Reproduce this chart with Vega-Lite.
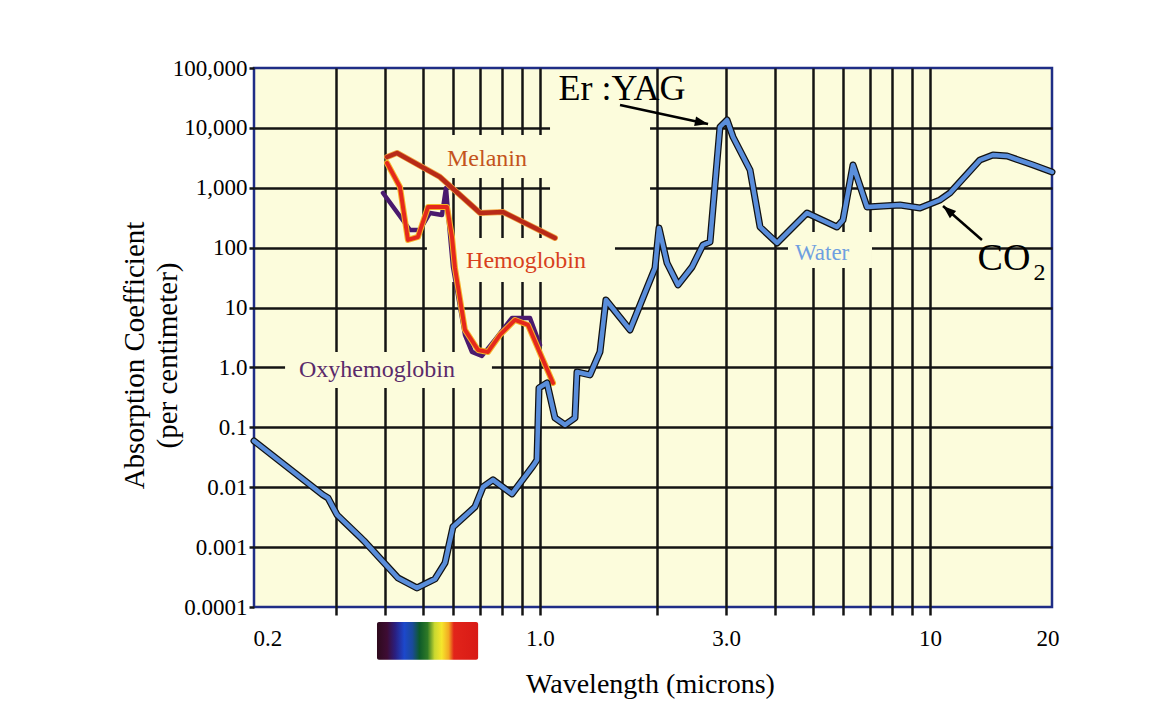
{
  "$schema": "https://vega.github.io/schema/vega-lite/v6.json",
  "width": 798,
  "height": 539,
  "autosize": {"type": "none"},
  "padding": {"left": 254, "top": 68, "right": 111, "bottom": 101},
  "background": "white",
  "config": {
    "view": {"fill": "#fcfcdc", "stroke": "#1f2d86", "strokeWidth": 2.5},
    "font": "'Liberation Serif', 'DejaVu Serif', serif"
  },
  "datasets": {
    "curves": [
      {"series": "Water", "x": 0.1848, "y": 0.0593},
      {"series": "Water", "x": 0.2778, "y": 0.00744},
      {"series": "Water", "x": 0.286, "y": 0.00663},
      {"series": "Water", "x": 0.3018, "y": 0.00345},
      {"series": "Water", "x": 0.3455, "y": 0.00148},
      {"series": "Water", "x": 0.3538, "y": 0.00127},
      {"series": "Water", "x": 0.4324, "y": 0.000306},
      {"series": "Water", "x": 0.4837, "y": 0.000208},
      {"series": "Water", "x": 0.5381, "y": 0.000294},
      {"series": "Water", "x": 0.5708, "y": 0.000545},
      {"series": "Water", "x": 0.5982, "y": 0.00217},
      {"series": "Water", "x": 0.6813, "y": 0.00469},
      {"series": "Water", "x": 0.7143, "y": 0.0101},
      {"series": "Water", "x": 0.7577, "y": 0.01324},
      {"series": "Water", "x": 0.8478, "y": 0.00773},
      {"series": "Water", "x": 0.9595, "y": 0.02268},
      {"series": "Water", "x": 0.9824, "y": 0.02856},
      {"series": "Water", "x": 0.9941, "y": 0.4547},
      {"series": "Water", "x": 1.0422, "y": 0.5511},
      {"series": "Water", "x": 1.0926, "y": 0.1435},
      {"series": "Water", "x": 1.1592, "y": 0.1097},
      {"series": "Water", "x": 1.2295, "y": 0.1435},
      {"series": "Water", "x": 1.2443, "y": 0.8411},
      {"series": "Water", "x": 1.3434, "y": 0.7494},
      {"series": "Water", "x": 1.425, "y": 1.815},
      {"series": "Water", "x": 1.476, "y": 13.4},
      {"series": "Water", "x": 1.701, "y": 4.23},
      {"series": "Water", "x": 1.972, "y": 45.8},
      {"series": "Water", "x": 2.019, "y": 213},
      {"series": "Water", "x": 2.117, "y": 55.5},
      {"series": "Water", "x": 2.259, "y": 23.9},
      {"series": "Water", "x": 2.454, "y": 47.6},
      {"series": "Water", "x": 2.617, "y": 110.9},
      {"series": "Water", "x": 2.729, "y": 124.5},
      {"series": "Water", "x": 2.894, "y": 10350},
      {"series": "Water", "x": 3.017, "y": 13550},
      {"series": "Water", "x": 3.126, "y": 7047},
      {"series": "Water", "x": 3.456, "y": 1982},
      {"series": "Water", "x": 3.666, "y": 221.6},
      {"series": "Water", "x": 4.053, "y": 119.8},
      {"series": "Water", "x": 4.837, "y": 379.6},
      {"series": "Water", "x": 5.774, "y": 221.6},
      {"series": "Water", "x": 5.983, "y": 290},
      {"series": "Water", "x": 6.348, "y": 2402},
      {"series": "Water", "x": 6.895, "y": 478},
      {"series": "Water", "x": 8.376, "y": 516},
      {"series": "Water", "x": 9.427, "y": 460},
      {"series": "Water", "x": 10.61, "y": 625.6},
      {"series": "Water", "x": 11.25, "y": 819},
      {"series": "Water", "x": 13.43, "y": 2912},
      {"series": "Water", "x": 14.5, "y": 3528},
      {"series": "Water", "x": 15.76, "y": 3395},
      {"series": "Water", "x": 18.37, "y": 2402},
      {"series": "Water", "x": 20.55, "y": 1835},
      {"series": "Melanin", "x": 0.4053, "y": 3268},
      {"series": "Melanin", "x": 0.4299, "y": 3811},
      {"series": "Melanin", "x": 0.5541, "y": 1515},
      {"series": "Melanin", "x": 0.7019, "y": 379.6},
      {"series": "Melanin", "x": 0.8036, "y": 394.5},
      {"series": "Melanin", "x": 1.0926, "y": 145.2},
      {"series": "Hemoglobin", "x": 0.4053, "y": 2595},
      {"series": "Hemoglobin", "x": 0.4375, "y": 1031},
      {"series": "Hemoglobin", "x": 0.4586, "y": 134.5},
      {"series": "Hemoglobin", "x": 0.4865, "y": 150.8},
      {"series": "Hemoglobin", "x": 0.5163, "y": 478},
      {"series": "Hemoglobin", "x": 0.5776, "y": 478},
      {"series": "Hemoglobin", "x": 0.5948, "y": 150.8},
      {"series": "Hemoglobin", "x": 0.6054, "y": 45.8},
      {"series": "Hemoglobin", "x": 0.6422, "y": 4.23},
      {"series": "Hemoglobin", "x": 0.6934, "y": 1.96},
      {"series": "Hemoglobin", "x": 0.7356, "y": 1.815},
      {"series": "Hemoglobin", "x": 0.7896, "y": 3.49},
      {"series": "Hemoglobin", "x": 0.8627, "y": 6.21},
      {"series": "Hemoglobin", "x": 0.9316, "y": 5.12},
      {"series": "Hemoglobin", "x": 1.0, "y": 1.746},
      {"series": "Hemoglobin", "x": 1.08, "y": 0.551},
      {"series": "Oxyhemoglobin", "x": 0.3958, "y": 819},
      {"series": "Oxyhemoglobin", "x": 0.4642, "y": 197.5},
      {"series": "Oxyhemoglobin", "x": 0.4922, "y": 197.5},
      {"series": "Oxyhemoglobin", "x": 0.5223, "y": 379.6},
      {"series": "Oxyhemoglobin", "x": 0.5607, "y": 351.6},
      {"series": "Oxyhemoglobin", "x": 0.5741, "y": 992},
      {"series": "Oxyhemoglobin", "x": 0.5809, "y": 394.5},
      {"series": "Oxyhemoglobin", "x": 0.5982, "y": 47.6},
      {"series": "Oxyhemoglobin", "x": 0.6422, "y": 3.49},
      {"series": "Oxyhemoglobin", "x": 0.6692, "y": 1.815},
      {"series": "Oxyhemoglobin", "x": 0.7097, "y": 1.556},
      {"series": "Oxyhemoglobin", "x": 0.7664, "y": 2.88},
      {"series": "Oxyhemoglobin", "x": 0.8478, "y": 6.71},
      {"series": "Oxyhemoglobin", "x": 0.9427, "y": 6.71},
      {"series": "Oxyhemoglobin", "x": 1.0, "y": 2.375}
    ],
    "labels": [
      {"label": "Melanin", "x": 0.7313, "y": 3027},
      {"label": "Hemoglobin", "x": 0.921, "y": 60},
      {"label": "Oxyhemoglobin", "x": 0.382, "y": 0.908},
      {"label": "Water", "x": 5.289, "y": 81.6},
      {"label": "Er :YAG", "x": 1.622, "y": 44600},
      {"label": "CO", "x": 15.48, "y": 64.8},
      {"label": "2", "x": 19.1, "y": 38}
    ],
    "boxes": [
      {"x": 0.222, "x2": 0.753, "y": 1.815, "y2": 0.455},
      {"x": 0.554, "x2": 1.061, "y": 7607, "y2": 1457},
      {"x": 0.513, "x2": 1.557, "y": 145.2, "y2": 26.8},
      {"x": 1.061, "x2": 1.915, "y": 92600, "y2": 145.2},
      {"x": 4.324, "x2": 7.1, "y": 182.8, "y2": 45.8}
    ],
    "spectrum": [
      {"x": 0.382, "x2": 0.694, "y": 0.0000564, "y2": 0.0000131}
    ],
    "arrows": [
      {"name": "Er", "x": 1.604, "y": 24100, "x2": 2.697, "y2": 11620},
      {"name": "CO2", "x": 13.59, "y": 134.5, "x2": 10.8, "y2": 496.7}
    ],
    "heads": [
      {"name": "Er", "x": 2.697, "y": 11620},
      {"name": "CO2", "x": 10.8, "y": 496.7}
    ]
  },
  "encoding": {
    "x": {
      "field": "x",
      "type": "quantitative",
      "scale": {"type": "log", "domain": [0.1848, 20.55], "nice": false},
      "axis": {
        "title": "Wavelength (microns)",
        "values": [0.2, 0.3, 0.4, 0.5, 0.6, 0.7, 0.8, 0.9, 1, 2, 3, 4, 5, 6, 7, 8, 9, 10, 20],
        "labelExpr": "datum.value === 0.2 ? '0.2' : datum.value === 1 ? '1.0' : datum.value === 3 ? '3.0' : datum.value === 10 ? '10' : datum.value === 20 ? '20' : ''",
        "grid": true,
        "gridColor": "#141414",
        "gridWidth": 2.5,
        "gridOpacity": {"condition": {"test": "datum.value === 0.2 || datum.value === 20", "value": 0}, "value": 1},
        "domain": false,
        "ticks": true,
        "tickColor": "#141414",
        "tickWidth": 2.5,
        "tickSize": 8,
        "tickOpacity": {"condition": {"test": "datum.value === 0.2 || datum.value === 20", "value": 0}, "value": 1},
        "labelFont": "'Liberation Serif', 'DejaVu Serif', serif",
        "labelFontSize": 23,
        "labelColor": "#000000",
        "labelPadding": 12,
        "labelFlush": false,
        "labelOverlap": false,
        "titleFont": "'Liberation Serif', 'DejaVu Serif', serif",
        "titleFontSize": 28,
        "titleFontWeight": "normal",
        "titleColor": "#000000",
        "titleX": 396,
        "titleY": 85,
        "titleAlign": "center",
        "titleBaseline": "alphabetic"
      }
    },
    "y": {
      "field": "y",
      "type": "quantitative",
      "scale": {"type": "log", "domain": [0.0001, 100000], "nice": false},
      "axis": {
        "title": ["Absorption Coefficient", "(per centimeter)"],
        "values": [0.0001, 0.001, 0.01, 0.1, 1, 10, 100, 1000, 10000, 100000],
        "labelExpr": "datum.value >= 1000 ? format(datum.value, ',') : datum.value === 1 ? '1.0' : datum.value === 10 ? '10' : datum.value === 100 ? '100' : datum.value === 0.1 ? '0.1' : datum.value === 0.01 ? '0.01' : datum.value === 0.001 ? '0.001' : '0.0001'",
        "grid": true,
        "gridColor": "#141414",
        "gridWidth": 2.5,
        "gridOpacity": {"condition": {"test": "datum.value === 0.0001 || datum.value === 100000", "value": 0}, "value": 1},
        "domain": false,
        "tickColor": "#141414",
        "tickWidth": 2.5,
        "tickSize": 5,
        "labelFont": "'Liberation Serif', 'DejaVu Serif', serif",
        "labelFontSize": 23,
        "labelColor": "#000000",
        "labelPadding": 2,
        "labelFlush": false,
        "labelOverlap": false,
        "titleFont": "'Liberation Serif', 'DejaVu Serif', serif",
        "titleFontSize": 29,
        "titleFontWeight": "normal",
        "titleColor": "#000000",
        "titleAngle": -90,
        "titleX": -111,
        "titleY": 287,
        "titleAlign": "center",
        "titleBaseline": "alphabetic",
        "titleLineHeight": 33
      }
    }
  },
  "layer": [
    {
      "data": {"name": "boxes"},
      "mark": {"type": "rect", "color": "#fcfcdc", "strokeWidth": 0},
      "encoding": {"x2": {"field": "x2"}, "y2": {"field": "y2"}}
    },
    {
      "data": {"name": "spectrum"},
      "mark": {
        "type": "rect",
        "clip": false,
        "cornerRadius": 2,
        "color": {
          "gradient": "linear",
          "x1": 0, "y1": 0, "x2": 1, "y2": 0,
          "stops": [
            {"offset": 0, "color": "#2e0a1c"},
            {"offset": 0.1, "color": "#3e0c34"},
            {"offset": 0.18, "color": "#2a1f80"},
            {"offset": 0.27, "color": "#1c48cc"},
            {"offset": 0.35, "color": "#1a4a9a"},
            {"offset": 0.42, "color": "#0d5a2a"},
            {"offset": 0.5, "color": "#2f7a26"},
            {"offset": 0.57, "color": "#c9d830"},
            {"offset": 0.64, "color": "#f6e62c"},
            {"offset": 0.71, "color": "#f2a822"},
            {"offset": 0.76, "color": "#e2241a"},
            {"offset": 1, "color": "#d81a16"}
          ]
        }
      },
      "encoding": {"x2": {"field": "x2"}, "y2": {"field": "y2"}}
    },
    {
      "data": {"name": "curves"},
      "transform": [{"filter": "datum.series === 'Oxyhemoglobin'"}],
      "mark": {"type": "line", "color": "#4a1a6e", "strokeWidth": 4.5, "strokeJoin": "round", "strokeCap": "round"},
      "encoding": {}
    },
    {
      "data": {"name": "curves"},
      "transform": [{"filter": "datum.series === 'Hemoglobin'"}],
      "mark": {"type": "line", "color": "#f5b42a", "strokeWidth": 6, "strokeJoin": "round", "strokeCap": "round"},
      "encoding": {}
    },
    {
      "data": {"name": "curves"},
      "transform": [{"filter": "datum.series === 'Hemoglobin'"}],
      "mark": {"type": "line", "color": "#e5281c", "strokeWidth": 4, "strokeJoin": "round", "strokeCap": "round"},
      "encoding": {}
    },
    {
      "data": {"name": "curves"},
      "transform": [{"filter": "datum.series === 'Melanin'"}],
      "mark": {"type": "line", "color": "#eea040", "strokeWidth": 6, "strokeJoin": "round", "strokeCap": "round"},
      "encoding": {}
    },
    {
      "data": {"name": "curves"},
      "transform": [{"filter": "datum.series === 'Melanin'"}],
      "mark": {"type": "line", "color": "#b82a18", "strokeWidth": 4.5, "strokeJoin": "round", "strokeCap": "round"},
      "encoding": {}
    },
    {
      "data": {"name": "curves"},
      "transform": [{"filter": "datum.series === 'Water'"}],
      "mark": {"type": "line", "color": "#111111", "strokeWidth": 7, "strokeJoin": "round", "strokeCap": "round"},
      "encoding": {}
    },
    {
      "data": {"name": "curves"},
      "transform": [{"filter": "datum.series === 'Water'"}],
      "mark": {"type": "line", "color": "#5a8edb", "strokeWidth": 4.5, "strokeJoin": "round", "strokeCap": "round"},
      "encoding": {}
    },
    {
      "data": {"name": "arrows"},
      "mark": {"type": "rule", "color": "#000000", "strokeWidth": 2.5},
      "encoding": {"x2": {"field": "x2"}, "y2": {"field": "y2"}}
    },
    {
      "data": {"name": "heads"},
      "transform": [{"filter": "datum.name === 'Er'"}],
      "mark": {"type": "point", "shape": "M0,0 L-1,-0.36 L-1,0.36 Z", "filled": true, "color": "#000000", "opacity": 1, "size": 700, "angle": 12},
      "encoding": {}
    },
    {
      "data": {"name": "heads"},
      "transform": [{"filter": "datum.name === 'CO2'"}],
      "mark": {"type": "point", "shape": "M0,0 L-1,-0.36 L-1,0.36 Z", "filled": true, "color": "#000000", "opacity": 1, "size": 700, "angle": 221},
      "encoding": {}
    },
    {
      "data": {"name": "labels"},
      "transform": [{"filter": "datum.label === 'Melanin'"}],
      "mark": {"type": "text", "font": "'Liberation Serif', 'DejaVu Serif', serif", "fontSize": 24, "color": "#c4541c", "align": "center", "baseline": "middle"},
      "encoding": {"text": {"field": "label"}}
    },
    {
      "data": {"name": "labels"},
      "transform": [{"filter": "datum.label === 'Hemoglobin'"}],
      "mark": {"type": "text", "font": "'Liberation Serif', 'DejaVu Serif', serif", "fontSize": 24, "color": "#d8401c", "align": "center", "baseline": "middle"},
      "encoding": {"text": {"field": "label"}}
    },
    {
      "data": {"name": "labels"},
      "transform": [{"filter": "datum.label === 'Oxyhemoglobin'"}],
      "mark": {"type": "text", "font": "'Liberation Serif', 'DejaVu Serif', serif", "fontSize": 24, "color": "#5a2a6a", "align": "center", "baseline": "middle"},
      "encoding": {"text": {"field": "label"}}
    },
    {
      "data": {"name": "labels"},
      "transform": [{"filter": "datum.label === 'Water'"}],
      "mark": {"type": "text", "font": "'Liberation Serif', 'DejaVu Serif', serif", "fontSize": 23, "color": "#6f9fe0", "align": "center", "baseline": "middle"},
      "encoding": {"text": {"field": "label"}}
    },
    {
      "data": {"name": "labels"},
      "transform": [{"filter": "datum.label === 'Er :YAG'"}],
      "mark": {"type": "text", "font": "'Liberation Serif', 'DejaVu Serif', serif", "fontSize": 36, "color": "#000000", "align": "center", "baseline": "middle"},
      "encoding": {"text": {"field": "label"}}
    },
    {
      "data": {"name": "labels"},
      "transform": [{"filter": "datum.label === 'CO'"}],
      "mark": {"type": "text", "font": "'Liberation Serif', 'DejaVu Serif', serif", "fontSize": 38, "color": "#000000", "align": "center", "baseline": "middle"},
      "encoding": {"text": {"field": "label"}}
    },
    {
      "data": {"name": "labels"},
      "transform": [{"filter": "datum.label === '2'"}],
      "mark": {"type": "text", "font": "'Liberation Serif', 'DejaVu Serif', serif", "fontSize": 24, "color": "#000000", "align": "center", "baseline": "middle"},
      "encoding": {"text": {"field": "label"}}
    }
  ]
}
